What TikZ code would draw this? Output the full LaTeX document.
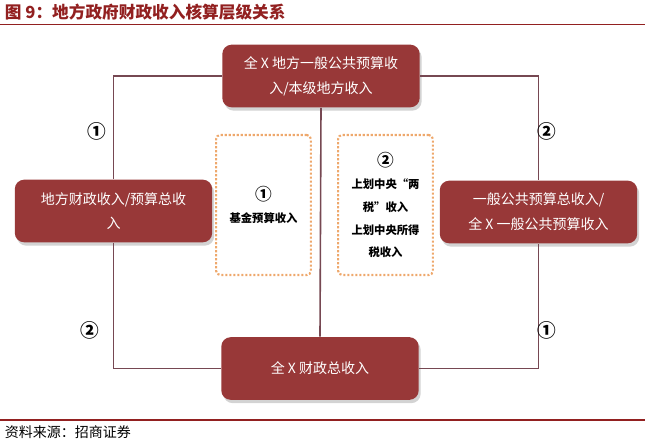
\documentclass[tikz,border=0pt]{standalone}
\usepackage{fontspec}
\setmainfont{Noto Sans CJK SC}
\usepackage{tikz}
\usetikzlibrary{shadows}
\definecolor{boxred}{RGB}{152,56,56}
\definecolor{titlered}{RGB}{146,32,32}
\definecolor{connline}{RGB}{118,72,82}
\definecolor{dotorange}{RGB}{238,168,108}
\tikzset{every picture/.style={line width=0.75pt}}
\tikzset{
  redbox/.style={fill=boxred, text=white, rounded corners=7pt, minimum width=148pt, minimum height=47pt,
    align=center, font=\fontsize{10.5}{18.5}\selectfont,
    drop shadow={shadow xshift=1.5pt, shadow yshift=-2.5pt, opacity=0.35}},
  dotbox/.style={draw=dotorange, line width=1.6, dash pattern=on 1.6pt off 1.4pt, rounded corners=3pt,
    minimum width=71pt, minimum height=105pt, align=center, font=\bfseries\fontsize{8.5}{17}\selectfont},
  conn/.style={draw=connline, line width=1.2},
  circnum/.style={font=\bfseries\fontsize{14}{16}\selectfont},
}
\newcommand{\bignum}[1]{{\fontsize{12.5}{17}\selectfont #1}}

\begin{document}
\begin{tikzpicture}[x=0.75pt,y=0.75pt,yscale=-1,xscale=1]
\useasboundingbox (0,0) rectangle (650,445);

% Title
\draw (0,12) node (title) [anchor=west, text=titlered, font=\bfseries\fontsize{12.5}{14}\selectfont] {图 9：地方政府财政收入核算层级关系};
\draw [titlered, line width=1.2] (0,24.5) -- (645,24.5);

% Red boxes
\draw (321,76) node (top) [redbox] {全 X 地方一般公共预算收\\入/本级地方收入};
\draw (113.5,211) node (left) [redbox] {地方财政收入/预算总收\\入};
\draw (538.5,212) node (right) [redbox] {一般公共预算总收入/\\全 X 一般公共预算收入};
\draw (320,368.5) node (bottom) [redbox] {全 X 财政总收入};

% Dotted boxes
\draw (263.5,205) node (fund) [dotbox] {\bignum{①}\\基金预算收入};
\draw (385.5,205) node (share) [dotbox] {\bignum{②}\\上划中央“两\\税”收入\\上划中央所得\\税收入};

% Connectors
\draw [conn] (top.west) -| (left.north);
\draw [conn] (top.east) -| (right.north);
\draw [conn] (bottom.west) -| (left.south);
\draw [conn] (bottom.east) -| (right.south);
\draw [conn] (top.south) -- (bottom.north);

% Number marks
\draw (97,131) node (numtl) [circnum] {①};
\draw (547,131) node (numtr) [circnum] {②};
\draw (90,330) node (numbl) [circnum] {②};
\draw (547,330) node (numbr) [circnum] {①};

% Source
\draw [titlered, line width=1.2] (0,420) -- (645,420);
\draw (0,432) node (source) [anchor=west, font=\fontsize{10.5}{12}\selectfont] {资料来源：招商证券};

\end{tikzpicture}
\end{document}
